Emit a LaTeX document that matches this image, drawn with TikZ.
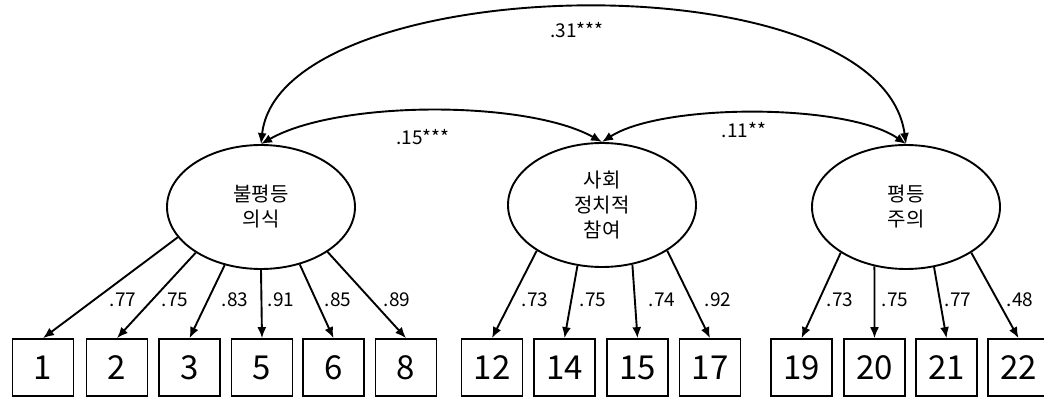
\documentclass[tikz,border=0pt]{standalone}
\usepackage{fontspec}
\setmainfont{Noto Sans CJK KR}
\usetikzlibrary{shapes.geometric,arrows.meta}

\begin{document}
\begin{tikzpicture}[x=1pt,y=-1pt]

    \tikzset{
      latent/.style={
        draw,
        ellipse,
        line width=1.9pt,
        minimum width=188pt,
        minimum height=124pt,
        inner sep=0pt,
        align=center,
        font=\fontsize{20}{25}\selectfont,
      },
      item/.style={
        draw,
        line width=1.7pt,
        minimum width=61pt,
        minimum height=57pt,
        inner sep=0pt,
        font=\fontsize{33}{36}\selectfont,
      },
      load/.style={line width=1.9pt,>={Latex[length=11pt,width=9pt]},->},
      corr/.style={line width=1.9pt,>={Latex[length=11pt,width=9pt]},<->},
      coef/.style={inner sep=0pt,font=\fontsize{19}{20}\selectfont},
    }
    \useasboundingbox (0,0) rectangle (1044,398);

	\node[latent] (ineq) at (261,207) {불평등\\의식};
	\node[latent] (social) at (602,205) {사회\\정치적\\참여};
	\node[latent] (equal) at (906,207) {평등\\주의};

	\node[item] (i1) at (43,367.5) {1};
	\node[item] (i2) at (117,367.5) {2};
	\node[item] (i3) at (189.5,367.5) {3};
	\node[item] (i5) at (262,367.5) {5};
	\node[item] (i6) at (333.5,367.5) {6};
	\node[item] (i8) at (406,367.5) {8};
	\node[item] (i12) at (492,367.5) {12};
	\node[item] (i14) at (564.5,367.5) {14};
	\node[item] (i15) at (637.5,367.5) {15};
	\node[item] (i17) at (710,367.5) {17};
	\node[item] (i19) at (801.5,367.5) {19};
	\node[item] (i20) at (874.5,367.5) {20};
	\node[item] (i21) at (946.5,367.5) {21};
	\node[item] (i22) at (1018.5,367.5) {22};

	\draw[load] (ineq.200) -- (i1.north);
	\draw[load] (ineq.215) -- (i2.north);
	\draw[load] (ineq.238) -- (i3.north);
	\draw[load] (ineq.270) -- (i5.north);
	\draw[load] (ineq.304) -- (i6.north);
	\draw[load] (ineq.326) -- (i8.north);
	\draw[load] (social.215) -- (i12.north);
	\draw[load] (social.248) -- (i14.north);
	\draw[load] (social.297) -- (i15.north);
	\draw[load] (social.325) -- (i17.north);
	\draw[load] (equal.215) -- (i19.north);
	\draw[load] (equal.242) -- (i20.north);
	\draw[load] (equal.295) -- (i21.north);
	\draw[load] (equal.325) -- (i22.north);

	\node[coef] (l1) at (123,300) {.77};
	\node[coef] (l2) at (175,300) {.75};
	\node[coef] (l3) at (235,300) {.83};
	\node[coef] (l5) at (281,300) {.91};
	\node[coef] (l6) at (338,300) {.85};
	\node[coef] (l8) at (397,300) {.89};
	\node[coef] (l12) at (535,300) {.73};
	\node[coef] (l14) at (593,300) {.75};
	\node[coef] (l15) at (662,300) {.74};
	\node[coef] (l17) at (718,300) {.92};
	\node[coef] (l19) at (840,300) {.73};
	\node[coef] (l20) at (895,300) {.75};
	\node[coef] (l21) at (958,300) {.77};
	\node[coef] (l22) at (1020,300) {.48};

	% correlations between the factors
	\draw[corr] (ineq.north) .. controls (280,-30) and (880,-45) .. (equal.north);
	\draw[corr] (ineq.north) .. controls (338,100) and (527,100) .. (social.north);
	\draw[corr] (social.north) .. controls (662,103) and (847,103) .. (equal.north);

	\node[coef] (c13) at (577,30) {.31***};
	\node[coef] (c12) at (423,137) {.15***};
	\node[coef] (c23) at (744,130) {.11**};

\end{tikzpicture}
\end{document}
